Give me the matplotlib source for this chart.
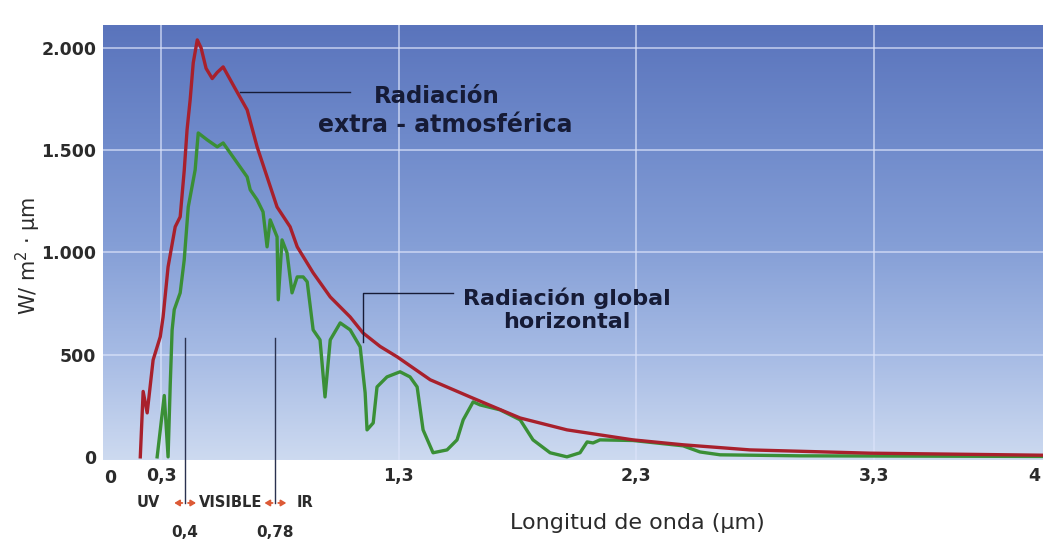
import matplotlib
matplotlib.use("Agg")
import matplotlib.pyplot as plt
import matplotlib.transforms as mtransforms
from matplotlib.colors import LinearSegmentedColormap
import numpy as np

plt.rcParams['font.family'] = ['DejaVu Sans']

# espectro extra-atmosférico (W/m2·µm)
wl_extra = [0.211, 0.223, 0.240, 0.265, 0.295, 0.307, 0.328, 0.358, 0.379, 0.396,
            0.408, 0.421, 0.434, 0.451, 0.467, 0.488, 0.514, 0.535, 0.560, 0.611,
            0.661, 0.703, 0.745, 0.787, 0.842, 0.872, 0.939, 1.011, 1.095, 1.149,
            1.221, 1.293, 1.432, 1.600, 1.811, 2.008, 2.286, 2.497, 2.779, 3.284, 4.013]
irr_extra = [0, 320, 215, 474, 587, 684, 929, 1125, 1174, 1400,
             1600, 1746, 1927, 2039, 2000, 1900, 1850, 1880, 1907, 1800,
             1697, 1516, 1369, 1222, 1125, 1027, 900, 782, 684, 606,
             540, 489, 377, 293, 190, 132, 83, 59, 34, 18, 8]

# radiación global sobre superficie horizontal
wl_global = [0.282, 0.312, 0.328, 0.337, 0.345, 0.354, 0.379, 0.396, 0.413, 0.442,
             0.455, 0.493, 0.535, 0.560, 0.619, 0.661, 0.674, 0.703, 0.728, 0.745,
             0.758, 0.770, 0.787, 0.792, 0.808, 0.829, 0.850, 0.872, 0.897, 0.914,
             0.939, 0.968, 0.989, 1.011, 1.053, 1.095, 1.137, 1.158, 1.166, 1.192,
             1.208, 1.250, 1.305, 1.347, 1.377, 1.402, 1.444, 1.503, 1.545, 1.571,
             1.613, 1.642, 1.726, 1.811, 1.865, 1.937, 2.008, 2.063, 2.093, 2.118,
             2.147, 2.286, 2.497, 2.568, 2.653, 2.989, 4.013]
irr_global = [0, 300, 0, 350, 620, 720, 802, 963, 1222, 1403,
              1584, 1550, 1516, 1535, 1438, 1369, 1306, 1257, 1198, 1027,
              1159, 1125, 1076, 768, 1061, 998, 802, 880, 880, 856,
              621, 572, 293, 572, 655, 621, 538, 313, 132, 166,
              342, 391, 416, 391, 342, 132, 20, 34, 83, 181,
              269, 254, 230, 181, 83, 20, 0, 20, 73, 68,
              83, 80, 54, 24, 10, 5, 2]

x_ticks = [0.3, 1.3, 2.3, 3.3, 4.0]
x_labels = ['0,3', '1,3', '2,3', '3,3', '4']
y_ticks = [0, 500, 1000, 1500, 2000]
y_labels = ['0', '500', '1.000', '1.500', '2.000']
band_edges = [0.4, 0.78]
band_labels = ['0,4', '0,78']
band_names = ['UV', 'VISIBLE', 'IR']
band_name_x = [0.244, 0.59, 0.905]

xmin, xmax = 0.055, 4.013
ymin, ymax = -15, 2112

fig = plt.figure(figsize=(10.43, 5.43), dpi=100)
ax = fig.add_axes([0.099, 0.153, 0.901, 0.801])

# fondo azul degradado
cmap = LinearSegmentedColormap.from_list('fondo', [
    (0.0, (205/255, 218/255, 240/255)),
    (0.25, (165/255, 186/255, 228/255)),
    (0.5, (132/255, 158/255, 214/255)),
    (0.75, (110/255, 137/255, 202/255)),
    (1.0, (90/255, 116/255, 188/255)),
])
grad = np.linspace(0, 1, 256).reshape(-1, 1)
ax.imshow(grad, cmap=cmap, origin='lower', aspect='auto',
          extent=[xmin, xmax, ymin, ymax], zorder=0)

grid_col = (0.86, 0.89, 0.98)
for y in y_ticks[1:]:
    ax.axhline(y, color=grid_col, lw=1.2, alpha=0.75, zorder=1)
for x in x_ticks[:-1]:
    ax.axvline(x, color=grid_col, lw=1.2, alpha=0.75, zorder=1)

ax.plot(wl_global, irr_global, color='#3a8f36', lw=2.4, zorder=3, solid_joinstyle='round')
ax.plot(wl_extra, irr_extra, color='#a8202c', lw=2.4, zorder=4, solid_joinstyle='round')

ax.set_xlim(xmin, xmax)
ax.set_ylim(ymin, ymax)
for s in ax.spines.values():
    s.set_visible(False)

txt_col = '#2b2b2b'
ax.set_xticks(x_ticks)
ax.set_xticklabels(x_labels)
ax.set_yticks(y_ticks)
ax.set_yticklabels(y_labels)
ax.tick_params(length=0, labelsize=12.5, labelcolor=txt_col)
ax.tick_params(axis='x', pad=5)
ax.tick_params(axis='y', pad=5)
for t in ax.get_xticklabels() + ax.get_yticklabels():
    t.set_fontweight('bold')
# la última etiqueta queda pegada al borde derecho
ax.get_xticklabels()[-1].set_horizontalalignment('right')

trans = mtransforms.blended_transform_factory(ax.transData, ax.transAxes)
ax.text(0.084, -0.042, '0', transform=trans, ha='center', va='center',
        fontsize=12.5, fontweight='bold', color=txt_col)

ax.set_ylabel('W/ m$^2$ · µm', fontsize=15, color=txt_col)
ax.yaxis.set_label_coords(-0.064, 0.47)
ax.text(2.303, -0.145, 'Longitud de onda (µm)', transform=trans,
        ha='center', va='center', fontsize=16, color=txt_col)

navy = '#161b36'
# rótulo de la curva extra-atmosférica
ax.plot([0.632, 1.095], [1785, 1785], color=navy, lw=1.0, zorder=5)
ax.text(1.461, 1760, 'Radiación', ha='center', va='center', fontsize=16.5, fontweight='bold', color=navy)
ax.text(1.495, 1623, 'extra - atmosférica', ha='center', va='center', fontsize=17, fontweight='bold', color=navy)

# rótulo de la radiación global
ax.plot([1.149, 1.149, 1.528], [560, 802, 802], color=navy, lw=1.0, zorder=5)
ax.text(2.008, 777, 'Radiación global', ha='center', va='center', fontsize=16, fontweight='bold', color=navy)
ax.text(2.008, 660, 'horizontal', ha='center', va='center', fontsize=16, fontweight='bold', color=navy)

# bandas UV / visible / IR
for xe, lab in zip(band_edges, band_labels):
    ax.plot([xe, xe], [0.28, -0.10], color='#2a3250', lw=1.0, transform=trans, clip_on=False, zorder=5)
    ax.text(xe, -0.168, lab, transform=trans, ha='center', va='center', fontsize=11,
            fontweight='bold', color=txt_col)
    for d in (-1, 1):
        ax.annotate('', xy=(xe + d * 0.046, -0.099), xytext=(xe + d * 0.012, -0.099),
                    xycoords=trans, textcoords=trans,
                    arrowprops=dict(arrowstyle='-|>,head_length=0.3,head_width=0.18',
                                    color='#dc5a36', lw=1.3, shrinkA=0, shrinkB=0),
                    annotation_clip=False)
for name, xn in zip(band_names, band_name_x):
    ax.text(xn, -0.099, name, transform=trans, ha='center', va='center', fontsize=10.5,
            fontweight='bold', color=txt_col)

fig.savefig('out.png', dpi=100, facecolor='white')
